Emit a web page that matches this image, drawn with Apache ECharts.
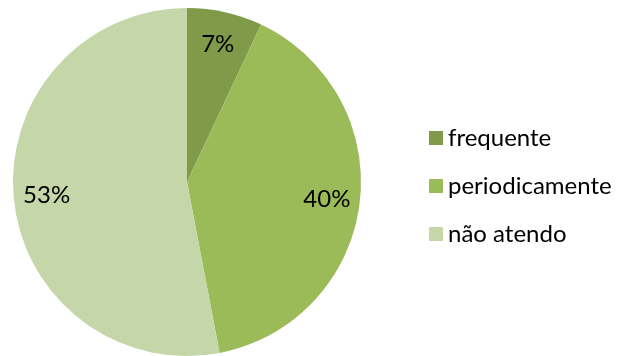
<!DOCTYPE html>
<html>
<head>
<meta charset="utf-8">
<script src="https://cdn.jsdelivr.net/npm/echarts@6/dist/echarts.min.js"></script>
<style>
  html, body { margin: 0; padding: 0; background: #ffffff; }
  #chart { width: 619px; height: 356px; }
</style>
</head>
<body>
<div id="chart"></div>
<script>
// Attendance frequency shares (percent)
const categories = ['frequente', 'periodicamente', 'não atendo'];
const shares = [7, 40, 53];
const sliceColors = ['#7f9b4a', '#9bbb59', '#c5d6a8'];

const FONT = 'Lato, "Open Sans", sans-serif';
const pieData = categories.map((name, i) => ({ name, value: shares[i] }));

const chart = echarts.init(document.getElementById('chart'), null, { renderer: 'canvas' });
chart.setOption({
  animation: false,
  color: sliceColors,
  legend: {
    orient: 'vertical',
    left: 424,
    top: 119,
    icon: 'rect',
    itemWidth: 14,
    itemHeight: 14,
    itemGap: 20,
    textStyle: { fontFamily: FONT, fontSize: 24, lineHeight: 28, color: '#000' },
    data: categories
  },
  series: [
    {
      type: 'pie',
      center: [187, 182],
      radius: [0, 174],
      startAngle: 90,
      clockwise: true,
      label: { show: false },
      labelLine: { show: false },
      silent: true,
      data: pieData
    },
    {
      // transparent ring used only to place the percentage labels
      type: 'pie',
      center: [187, 182],
      radius: [102, 174],
      startAngle: 90,
      clockwise: true,
      silent: true,
      legendHoverLink: false,
      itemStyle: { color: 'rgba(0,0,0,0)' },
      label: {
        show: true,
        position: 'inside',
        formatter: '{c}%',
        fontFamily: FONT,
        fontSize: 24,
        color: '#000'
      },
      labelLine: { show: false },
      data: pieData
    }
  ]
});
</script>
</body>
</html>
